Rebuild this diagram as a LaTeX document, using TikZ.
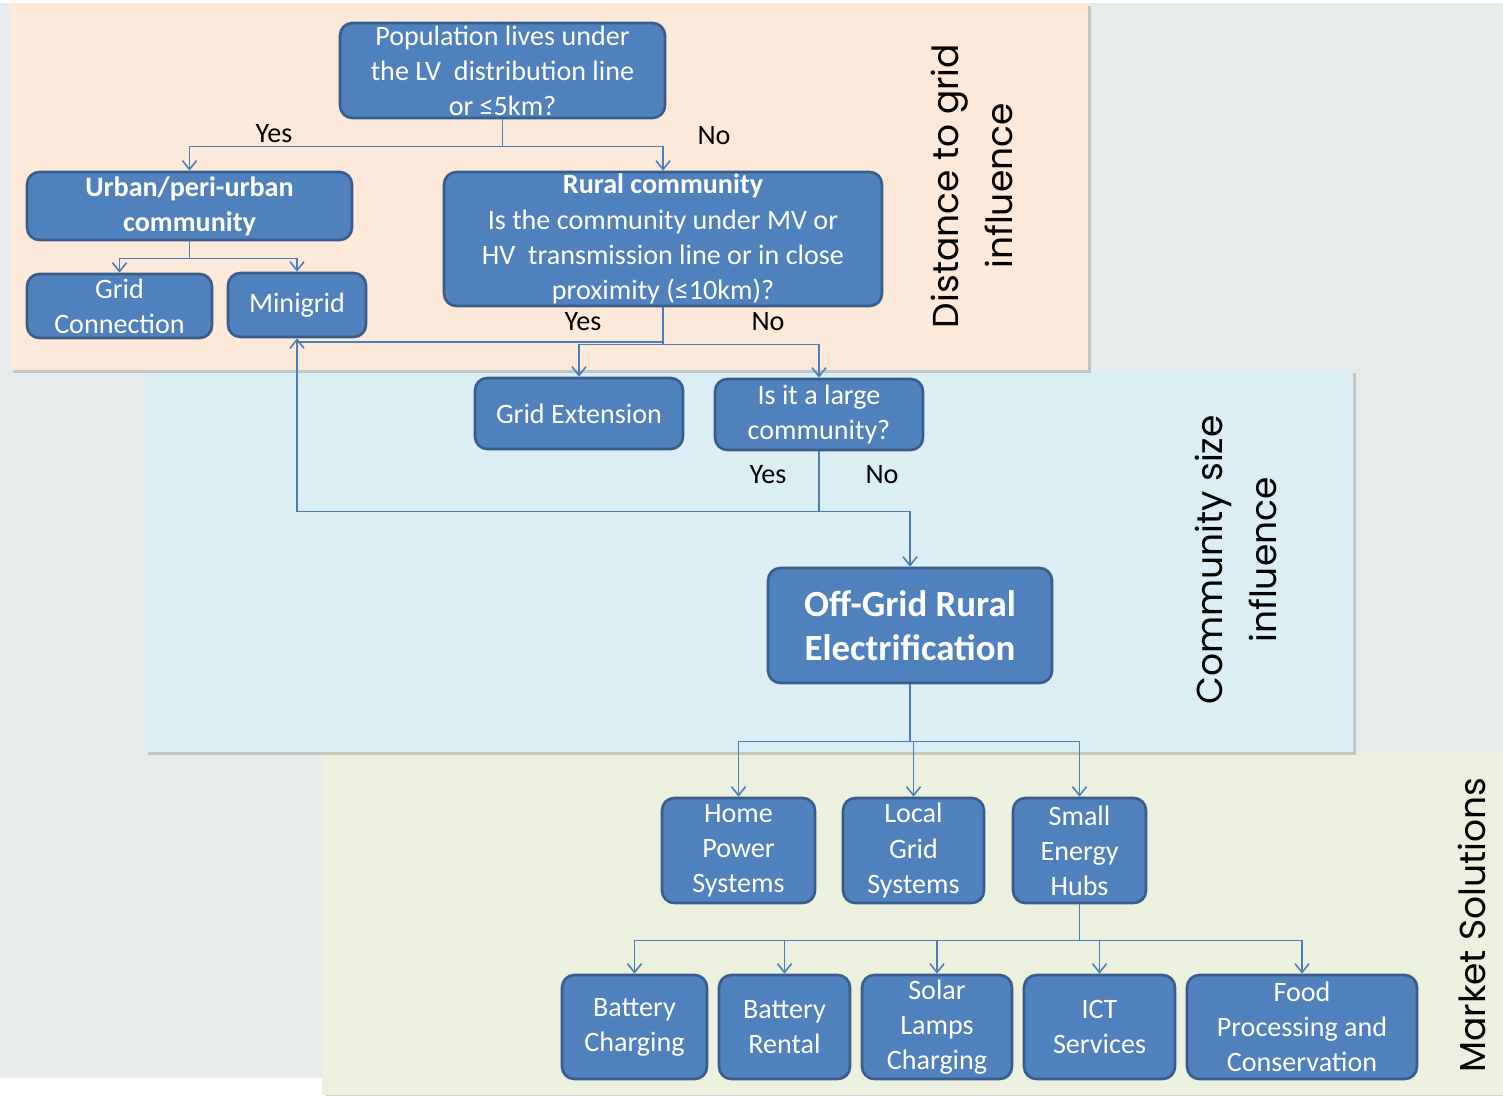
\documentclass[tikz,border=0pt]{standalone}
\usepackage{fontspec}
\setmainfont{Carlito}
\newfontfamily\sidefont{Poppins}
\usetikzlibrary{positioning,shadows,arrows.meta}
\definecolor{boxfill}{HTML}{4F81BD}
\definecolor{boxline}{HTML}{385D8A}
\definecolor{linkcol}{HTML}{4A7EBB}
\definecolor{distbg}{HTML}{FDE9D9}
\definecolor{sizebg}{HTML}{DBEEF3}
\definecolor{marketbg}{HTML}{EBF1DE}
\definecolor{pagebg}{HTML}{E8EBEC}
\tikzstyle{StepBox}=[rectangle, draw=boxline, line width=1.5pt, fill=boxfill, rounded corners=7pt, text=white, align=center, inner xsep=2pt, inner ysep=-4pt, font=\fontsize{16}{20}\selectfont]
\tikzstyle{Link}=[draw=linkcol, line width=0.9pt, -{Straight Barb[length=5pt,width=8pt]}]
\tikzstyle{Answer}=[font=\fontsize{16}{20}\selectfont]
\tikzstyle{Panel}=[drop shadow={shadow xshift=1.5pt,shadow yshift=-1.5pt,opacity=0.35}]
\tikzstyle{SideTitle}=[rotate=90, align=center, font=\sidefont\fontsize{20.5}{31}\selectfont]

\begin{document}
\begin{tikzpicture}[x=0.02cm, y=-0.02cm]

    % page and the three bands
    \fill[white] (0,0) rectangle (1503,1095);
    \useasboundingbox (0,0) rectangle (1503,1095);
    \fill[pagebg] (0,3) rectangle (1503,1078);
    \fill[marketbg, Panel] (322,752) rectangle (1503,1095);
    \fill[sizebg, Panel] (145,370) rectangle (1353,752);
    \fill[distbg, Panel] (10,3) rectangle (1088,370);

    \node[SideTitle] (disttitle) at (972,186) {Distance to grid\\influence};
    \node[SideTitle] (sizetitle) at (1236,560) {Community size\\influence};
    \node[SideTitle] (markettitle) at (1472,925) {Market Solutions};

    % decisions
    \node (pop) [StepBox, minimum width=6.5cm, minimum height=1.9cm] at (502.5,70.5) {Population lives under\\the LV\ \ distribution line\\or ≤5km?};
    \node (urban) [StepBox, minimum width=6.5cm, minimum height=1.36cm] at (189.5,206) {\textbf{Urban/peri-urban}\\\textbf{community}};
    \node (rural) [StepBox, minimum width=8.76cm, minimum height=2.68cm] at (663,239) {\textbf{Rural community}\\Is the community under MV or\\HV\ \ transmission line or in close\\proximity (≤10km)?};
    \node (gridconn) [StepBox, minimum width=3.7cm, minimum height=1.28cm] at (119.5,306) {Grid\\Connection};
    \node (minigrid) [StepBox, minimum width=2.76cm, minimum height=1.28cm] at (297,305) {Minigrid};
    \node (gridext) [StepBox, minimum width=4.16cm, minimum height=1.42cm] at (579,413.5) {Grid Extension};
    \node (large) [StepBox, minimum width=4.16cm, minimum height=1.42cm] at (819,414.5) {Is it a large\\community?};
    \node (offgrid) [StepBox, minimum width=5.68cm, minimum height=2.3cm, font=\bfseries\fontsize{21}{25}\selectfont] at (910,625.5) {Off-Grid Rural\\Electrification};

    % market solutions
    \node (home) [StepBox, minimum width=3.06cm, minimum height=2.1cm] at (738.5,850.5) {Home\\Power\\Systems};
    \node (local) [StepBox, minimum width=2.82cm, minimum height=2.1cm] at (913.5,850.5) {Local\\Grid\\Systems};
    \node (hubs) [StepBox, minimum width=2.66cm, minimum height=2.1cm] at (1079.5,850.5) {Small\\Energy\\Hubs};
    \node (batt) [StepBox, minimum width=2.9cm, minimum height=2.08cm] at (634.5,1027) {Battery\\Charging};
    \node (rent) [StepBox, minimum width=2.62cm, minimum height=2.08cm] at (784.5,1027) {Battery\\Rental};
    \node (solar) [StepBox, minimum width=3.0cm, minimum height=2.08cm] at (937,1027) {Solar\\Lamps\\Charging};
    \node (ict) [StepBox, minimum width=3.02cm, minimum height=2.08cm] at (1099.5,1027) {ICT\\Services};
    \node (food) [StepBox, minimum width=4.6cm, minimum height=2.08cm] at (1302,1027) {Food\\Processing and\\Conservation};

    \coordinate (ruralbar) at (297,342);

    \draw[Link] (pop.south) -- ++(0,27) -| (urban.north);
    \draw[Link] (pop.south) -- ++(0,27) -| (rural.north);
    \draw[Link] (urban.south) -- ++(0,17) -| (gridconn.north);
    \draw[Link] (urban.south) -- ++(0,17) -| (minigrid.north);
    \draw[Link, -] (rural.south) |- (ruralbar);
    \draw[Link] (rural.south) -- ++(0,37) -| (gridext.north);
    \draw[Link] (rural.south) -- ++(0,37) -| (large.north);
    \draw[Link] (large.south) -- ++(0,60) -| (minigrid.south);
    \draw[Link] (large.south) -- ++(0,60) -| (offgrid.north);
    \draw[Link] (offgrid.south) -- ++(0,57) -| (home.north);
    \draw[Link] (offgrid.south) -- ++(0,57) -| (local.north);
    \draw[Link] (offgrid.south) -- ++(0,57) -| (hubs.north);
    \foreach \dest in {batt,rent,solar,ict,food}
      \draw[Link] (hubs.south) -- ++(0,36) -| (\dest.north);

    \node[Answer] (popyes) at (274,134) {Yes};
    \node[Answer] (popno) at (714,136) {No};
    \node[Answer] (ruralyes) at (583,322) {Yes};
    \node[Answer] (ruralno) at (768,322) {No};
    \node[Answer] (largeyes) at (768,475) {Yes};
    \node[Answer] (largeno) at (882,475) {No};

\end{tikzpicture}
\end{document}
